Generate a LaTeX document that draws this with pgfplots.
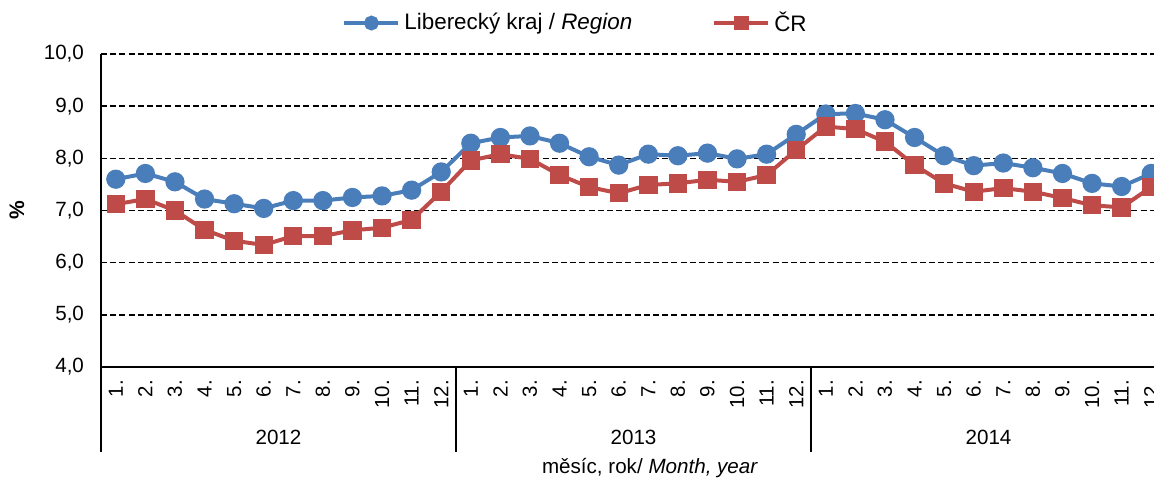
\documentclass[border=0pt]{standalone}
\usepackage{pgfplots}
\pgfplotsset{compat=1.18}
\usepackage{fontspec}
\setmainfont{Liberation Sans}
\definecolor{blu}{HTML}{4A7EBB}
\definecolor{rd}{HTML}{BE4B48}

\pgfplotstableread{
x reg cr
0 7.60 7.12
1 7.71 7.22
2 7.55 7.00
3 7.22 6.63
4 7.13 6.42
5 7.04 6.34
6 7.19 6.51
7 7.19 6.51
8 7.25 6.62
9 7.28 6.67
10 7.39 6.82
11 7.74 7.36
12 8.29 7.96
13 8.40 8.08
14 8.43 7.99
15 8.29 7.68
16 8.03 7.45
17 7.87 7.33
18 8.08 7.49
19 8.05 7.52
20 8.10 7.59
21 7.99 7.55
22 8.08 7.68
23 8.46 8.16
24 8.85 8.61
25 8.86 8.56
26 8.74 8.32
27 8.40 7.87
28 8.05 7.52
29 7.86 7.36
30 7.91 7.43
31 7.82 7.36
32 7.71 7.24
33 7.52 7.10
34 7.46 7.06
35 7.71 7.45
}\datatable

\begin{document}
\begin{tikzpicture}
\useasboundingbox (0,0) rectangle (577pt,241pt);
\clip (0,0) rectangle (577pt,241pt);
\begin{axis}[
  at={(50.5pt,57.5pt)}, anchor=south west,
  scale only axis, width=532.5pt, height=156.5pt,
  xmin=-0.5, xmax=35.5, ymin=4, ymax=10,
  clip=false,
  axis x line*=bottom, axis y line*=left,
  axis line style={line width=1.3pt, -},
  major tick length=0pt,
  ytick={4,5,...,10},
  ymajorgrids,
  grid style={black, line width=0.7pt, dash pattern=on 3pt off 1.6pt},
  xtick={0,...,35},
  xticklabels={1.,2.,3.,4.,5.,6.,7.,8.,9.,10.,11.,12.,1.,2.,3.,4.,5.,6.,7.,8.,9.,10.,11.,12.,1.,2.,3.,4.,5.,6.,7.,8.,9.,10.,11.,12.},
  xticklabel style={rotate=90, anchor=east, font=\fontsize{10.2}{12}\selectfont, inner ysep=2pt, inner xsep=6.3pt},
  yticklabel style={font=\fontsize{10.3}{12}\selectfont, xshift=-5pt},
  y tick label style={/pgf/number format/.cd, fixed, fixed zerofill, precision=1, use comma},
  /pgf/number format/assume math mode=true,
  legend columns=2,
  legend style={draw=none, fill=none, at={(0.4465,1.099)}, anchor=center,
    font=\fontsize{11.2}{12}\selectfont,
    /tikz/every even column/.append style={column sep=38pt}},
  legend image code/.code={
    \draw[#1, mark size=2.7pt, mark repeat=2, mark phase=2] plot coordinates {(0pt,0pt) (13.5pt,0pt) (27pt,0pt)};
  },
]
\addplot[blu, line width=2pt, mark=*, mark size=3.8pt, mark options={solid, fill=blu}] table[x=x, y=reg] {\datatable};
\addlegendentry{Libereck\'y kraj / \textit{Region}}
\addplot[rd, line width=2pt, mark=square*, mark size=3.6pt, mark options={solid, fill=rd}] table[x=x, y=cr] {\datatable};
\addlegendentry{ČR}

\draw[line width=0.6pt] (axis cs:-0.5,4) -- ++(0pt,-42.5pt);
\draw[line width=0.6pt] (axis cs:11.5,4) -- ++(0pt,-42.5pt);
\draw[line width=0.6pt] (axis cs:23.5,4) -- ++(0pt,-42.5pt);
\draw[line width=0.6pt] (axis cs:35.5,4) -- ++(0pt,-42.5pt);
\node[font=\fontsize{10.3}{12}\selectfont] at (axis cs:5.5,4) [yshift=-35pt] {2012};
\node[font=\fontsize{10.3}{12}\selectfont] at (axis cs:17.5,4) [yshift=-35pt] {2013};
\node[font=\fontsize{10.3}{12}\selectfont] at (axis cs:29.5,4) [yshift=-35pt] {2014};
\node[font=\fontsize{10.3}{12}\selectfont] at (rel axis cs:0.5155,0) [yshift=-50.5pt] {měsíc, rok/ \textit{Month, year}};
\node[font=\fontsize{10.5}{12}\selectfont\bfseries, rotate=90] at ([xshift=-42pt]rel axis cs:0,0.5) {\%};
\end{axis}
\end{tikzpicture}
\end{document}
